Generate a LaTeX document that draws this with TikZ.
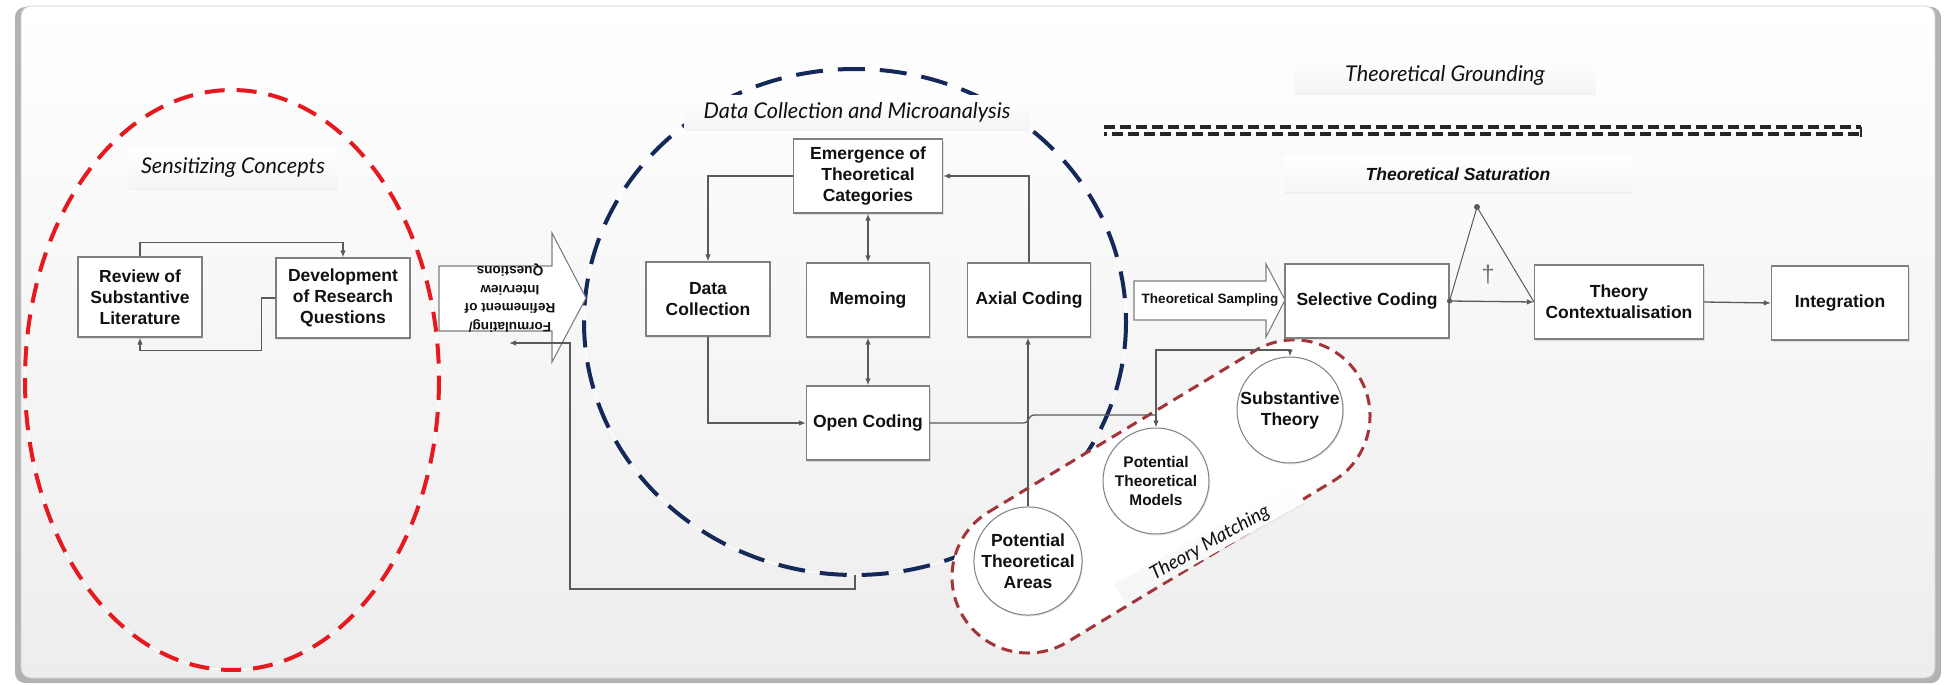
\documentclass[tikz,border=0pt]{standalone}
\usepackage{fontspec}
\setmainfont{Liberation Sans}
\newfontfamily\handfont{Lato}
\usetikzlibrary{arrows.meta,shadows,calc}

\definecolor{boxline}{HTML}{7F7F7F}
\definecolor{lineg}{HTML}{5A5A5A}
\definecolor{txt}{HTML}{111111}
\definecolor{sensred}{HTML}{E5191F}
\definecolor{navy}{HTML}{14285A}
\definecolor{capred}{HTML}{A3353A}

\newcommand\boxfont{\fontsize{17.5}{21}\selectfont\bfseries}
\newcommand\smallbold{\fontsize{13.6}{18.5}\selectfont\bfseries}
\newcommand\handtext{\handfont\itshape\fontsize{21.7}{24}\selectfont}

\begin{document}
\begin{tikzpicture}[x=1pt,y=-1pt,
  box/.style={draw=boxline, fill=white, line width=1.1pt, align=center,
    text=txt, font=\boxfont, inner sep=1pt,
    drop shadow={opacity=0.22, shadow xshift=1pt, shadow yshift=-1.5pt}},
  circ/.style={circle, draw=boxline, fill=white, line width=1pt, align=center,
    text=txt, font=\boxfont, inner sep=0pt,
    drop shadow={opacity=0.18, shadow xshift=1pt, shadow yshift=-1.5pt}},
  lbl/.style={top color=white, bottom color=black!4, inner sep=0pt, text=txt,
    font=\handtext,
    drop shadow={opacity=0.08, shadow xshift=0pt, shadow yshift=-2pt}},
  conn/.style={draw=lineg, line width=1.3pt, -{Latex[length=7pt,width=5.5pt]}},
  conn2/.style={draw=lineg, line width=1.3pt, {Latex[length=7pt,width=5.5pt]}-{Latex[length=7pt,width=5.5pt]}},
  plain/.style={draw=lineg, line width=1.3pt},
  bigarrow/.style={draw=boxline, fill=white, line width=1.1pt, line join=miter}
]
\useasboundingbox (0,0) rectangle (1955,685);

% outer panel with its shadow
\fill[black!30, rounded corners=10pt] (15,7) rectangle (1941,683);
\shadedraw[top color=white, bottom color=black!7, draw=black!18, line width=0.8pt,
  rounded corners=10pt] (21,6) rectangle (1935,678);

% phase groupings
\draw[white, line width=1pt] (232,380) ellipse [x radius=207, y radius=290];
\draw[sensred, line width=4pt, dash pattern=on 20pt off 12pt]
  (232,380) ellipse [x radius=207, y radius=290];
\draw[white, line width=1pt] (855,322) ellipse [x radius=271, y radius=253];
\draw[navy, line width=4pt, dash pattern=on 27pt off 15pt]
  (855,322) ellipse [x radius=271, y radius=253];
\coordinate (blueBottom) at (855,575);

% theory matching capsule
\begin{scope}[shift={(1028,577)}, rotate=31.2]
  \filldraw[fill=white, draw=capred, line width=3pt, dash pattern=on 11pt off 7pt]
    (0,-76) -- (311,-76) arc[start angle=-90, end angle=90, radius=76]
    -- (0,76) arc[start angle=90, end angle=270, radius=76] -- cycle;
\end{scope}
\node[lbl, rotate=29.5, minimum width=205pt, minimum height=22pt,
  font=\handfont\itshape\fontsize{19}{21}\selectfont] (tmatch) at (1210,543) {Theory Matching};

% section labels
\node[lbl, minimum width=209pt, minimum height=40pt] (sens) at (233,168) {Sensitizing Concepts};
\node[lbl, minimum width=345pt, minimum height=34pt] (dcml) at (857,112) {Data Collection and Microanalysis};
\node[lbl, minimum width=301pt, minimum height=35pt] (tground) at (1445,75) {Theoretical Grounding};
\node[lbl, minimum width=347pt, minimum height=35pt, font=\boxfont\itshape] (tsat) at (1458,174) {Theoretical Saturation};

% grounding rule (double dashed line)
\coordinate (gA) at (1104,127);
\coordinate (gB) at (1861,127);
\coordinate (gC) at (1104,134);
\coordinate (gD) at (1861,134);
\draw[black!85, line width=3.4pt, dash pattern=on 11pt off 5pt] (gA) -- (gB);
\draw[black!85, line width=3.4pt, dash pattern=on 11pt off 5pt, dash phase=8pt] (gC) -- (gD);
\draw[black!85, line width=2.4pt] (gB) -- ++(0,10);

% boxes
\node[box, minimum width=124pt, minimum height=80pt] (review) at (140,297) {Review of\\Substantive\\Literature};
\node[box, minimum width=134pt, minimum height=80pt] (devel) at (343,298) {Development\\of Research\\Questions};
\node[box, minimum width=149pt, minimum height=74pt] (emer) at (868,176) {Emergence of\\Theoretical\\Categories};
\node[box, minimum width=124pt, minimum height=74pt] (dcol) at (708,299) {Data\\Collection};
\node[box, minimum width=123pt, minimum height=74pt] (memo) at (868,300) {Memoing};
\node[box, minimum width=123pt, minimum height=74pt] (axial) at (1029,300) {Axial Coding};
\node[box, minimum width=123pt, minimum height=74pt] (open) at (868,423) {Open Coding};
\node[box, minimum width=164pt, minimum height=74pt] (sel) at (1367,301) {Selective Coding};
\node[box, minimum width=169pt, minimum height=74pt] (ctx) at (1619,302) {Theory\\Contextualisation};
\node[box, minimum width=137pt, minimum height=74pt] (integ) at (1840,303) {Integration};

\node[circ, minimum size=104pt] (pta) at (1028,561) {Potential\\Theoretical\\Areas};
\node[circ, minimum size=106pt, font=\fontsize{15.4}{19}\selectfont\bfseries] (ptm) at (1156,481) {Potential\\Theoretical\\Models};
\node[circ, minimum size=106pt] (st) at (1290,410) {Substantive\\Theory};

% block arrow: formulating interview questions
\draw[bigarrow] (439,266) -- (552,266) -- (552,233) -- (586,298) -- (552,362)
  -- (552,331) -- (439,331) -- cycle;
\node[rotate=180, align=center, text=txt, font=\smallbold, inner sep=0pt] (formq) at (510,298)
  {Formulating/\\Refinement of\\Interview\\Questions};

% block arrow: theoretical sampling
\draw[bigarrow] (1134,281) -- (1266,281) -- (1266,264) -- (1285,300) -- (1266,337)
  -- (1266,320) -- (1134,320) -- cycle;
\node[text=txt, font=\fontsize{13.5}{16}\selectfont\bfseries, inner sep=0pt] (tsamp) at (1210,300) {Theoretical Sampling};

% sensitizing loop
\draw[conn] (review.north) -- ++(0,-14) -| (devel.north);
\draw[conn] (devel.west) -- ++(-14,0) |- ($(review.south)+(0,13)$) -- (review.south);

% microanalysis cycle
\draw[conn] (emer.west) -| (dcol.north);
\draw[conn] (axial.north) |- (emer.east);
\draw[conn2] (emer.south) -- (memo.north);
\draw[conn2] (memo.south) -- (open.north);
\draw[conn] (dcol.south) |- (open.west);

% return to question refinement
\coordinate (retEnd) at (509,343);
\draw[conn] (blueBottom) -- (855,589) -- (570,589) -- (570,343) -- (retEnd);

% theory matching links
\draw[conn] (pta.north) -- (pta.north |- axial.south);
\coordinate (split) at (1156,415);
\draw[plain] (open.east) -- (1023,423) .. controls (1030,423) and (1027,415) .. (1035,415) -- (split);
\draw[conn] (split) -- (ptm.north);
\draw[conn] (split) -- (1156,350) -| (st.north);

% saturation and integration
\coordinate (apex) at (1477,207);
\draw[draw=lineg, line width=1pt] (sel.east) -- (apex) -- (ctx.west);
\draw[conn] (sel.east) -- (ctx.west);
\fill[lineg] (sel.east) circle (2.6pt);
\fill[lineg] (apex) circle (3pt);
\node[text=black!55, font=\fontsize{24}{24}\selectfont, inner sep=0pt] (dagger) at (1488,275) {†};
\draw[conn] (ctx.east) -- (integ.west);

\end{tikzpicture}
\end{document}
